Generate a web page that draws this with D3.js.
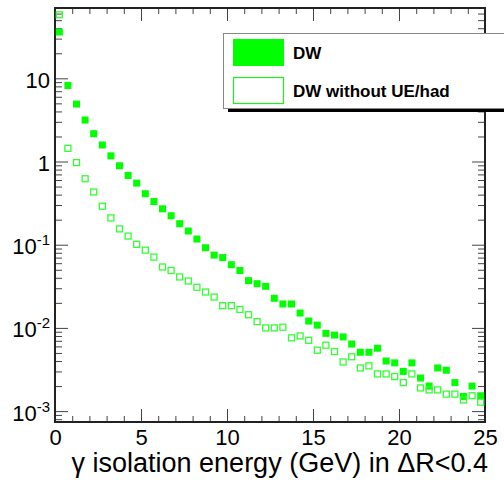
<!DOCTYPE html>
<html>
<head>
<meta charset="utf-8">
<script src="https://cdn.jsdelivr.net/npm/d3@7"></script>
<style>
  body { margin: 0; background: #fff; }
  svg { display: block; }
  text { font-family: "Liberation Sans", Arial, Helvetica, sans-serif; }
</style>
</head>
<body>
<div id="chart"></div>
<script>
// bin centres (GeV), 0.5 GeV bins
var energy = [0.25, 0.75, 1.25, 1.75, 2.25, 2.75, 3.25, 3.75, 4.25, 4.75,
  5.25, 5.75, 6.25, 6.75, 7.25, 7.75, 8.25, 8.75, 9.25, 9.75,
  10.25, 10.75, 11.25, 11.75, 12.25, 12.75, 13.25, 13.75, 14.25, 14.75,
  15.25, 15.75, 16.25, 16.75, 17.25, 17.75, 18.25, 18.75, 19.25, 19.75,
  20.25, 20.75, 21.25, 21.75, 22.25, 22.75, 23.25, 23.75, 24.25, 24.75];

var dw = [36, 8.2, 4.9, 3.15, 2.16, 1.58, 1.17, 0.89, 0.68, 0.55,
  0.41, 0.33, 0.27, 0.223, 0.179, 0.146, 0.117, 0.092, 0.075, 0.070,
  0.0575, 0.049, 0.037, 0.034, 0.0316, 0.0227, 0.0194, 0.0194, 0.0151, 0.0121,
  0.0108, 0.0086, 0.0082, 0.0078, 0.0064, 0.0051, 0.0051, 0.0057, 0.0040, 0.0038,
  0.0030, 0.0038, 0.0025, 0.0020, 0.0033, 0.0031, 0.0022, 0.0015, 0.0020, 0.00153];

var dwNoUE = [58, 1.44, 0.97, 0.62, 0.43, 0.29, 0.21, 0.155, 0.127, 0.101,
  0.086, 0.071, 0.054, 0.049, 0.041, 0.0366, 0.0308, 0.027, 0.0235, 0.0185,
  0.0185, 0.0167, 0.0144, 0.0119, 0.0100, 0.0100, 0.0102, 0.0076, 0.0080, 0.0071,
  0.0054, 0.0062, 0.0052, 0.0039, 0.0045, 0.0033, 0.0035, 0.0028, 0.0028, 0.0026,
  0.0022, 0.0028, 0.0019, 0.0018, 0.0018, 0.0016, 0.0016, 0.00136, 0.00153, 0.00128];

var xMajor = [0, 5, 10, 15, 20, 25];
var xMinor = [1, 2, 3, 4, 6, 7, 8, 9, 11, 12, 13, 14, 16, 17, 18, 19, 21, 22, 23, 24];
var yExp = [-3, -2, -1, 0, 1];
var legendLabels = ["DW", "DW without UE/had"];

var W = 504, H = 483;
var pL = 55, pR = 485, pT = 8, pB = 422;
var green = "#00ff00";

var svg = d3.select("#chart").append("svg")
    .attr("width", W)
    .attr("height", H);

var x = d3.scaleLinear().domain([0, 25]).range([pL, pR]);
var y = d3.scaleLog().domain([7.4e-4, 70]).range([pB, pT]);

var yMajor = yExp.map(function(e){ return Math.pow(10, e); });
var yMinor = [];
for (var e = -4; e <= 1; e++) {
  for (var k = 2; k <= 9; k++) {
    var v = k * Math.pow(10, e);
    if (v >= y.domain()[0] && v <= y.domain()[1]) yMinor.push(v);
  }
}

function styleAxis(g) {
  g.select(".domain").remove();
  g.selectAll(".tick line").attr("stroke", "#444").attr("stroke-width", 1);
}

// ticks, all pointing inward
svg.append("g").attr("transform", "translate(0," + pB + ")")
    .call(d3.axisBottom(x).tickValues(xMinor).tickSize(-6).tickFormat(""))
    .call(styleAxis);
var xAx = svg.append("g").attr("transform", "translate(0," + pB + ")")
    .call(d3.axisBottom(x).tickValues(xMajor).tickSize(-13).tickPadding(7).tickFormat(d3.format("d")))
    .call(styleAxis);
xAx.selectAll("text").attr("font-size", 22).attr("fill", "#000")
    .style("font-family", "Liberation Sans, Arial, sans-serif");

svg.append("g").attr("transform", "translate(0," + pT + ")")
    .call(d3.axisTop(x).tickValues(xMinor).tickSize(-6).tickFormat(""))
    .call(styleAxis);
svg.append("g").attr("transform", "translate(0," + pT + ")")
    .call(d3.axisTop(x).tickValues(xMajor).tickSize(-13).tickFormat(""))
    .call(styleAxis);

svg.append("g").attr("transform", "translate(" + pL + ",0)")
    .call(d3.axisLeft(y).tickValues(yMinor).tickSize(-7).tickFormat(""))
    .call(styleAxis);
var yAx = svg.append("g").attr("transform", "translate(" + pL + ",0)")
    .call(d3.axisLeft(y).tickValues(yMajor).tickSize(-13).tickPadding(5).tickFormat(""))
    .call(styleAxis);

svg.append("g").attr("transform", "translate(" + pR + ",0)")
    .call(d3.axisRight(y).tickValues(yMinor).tickSize(-7).tickFormat(""))
    .call(styleAxis);
svg.append("g").attr("transform", "translate(" + pR + ",0)")
    .call(d3.axisRight(y).tickValues(yMajor).tickSize(-13).tickFormat(""))
    .call(styleAxis);

// y labels as 10^n
yAx.selectAll(".tick").each(function(d) {
  var ex = Math.round(Math.log10(d));
  var t = d3.select(this).select("text")
      .attr("x", -5).attr("dy", null).attr("y", 9)
      .attr("font-size", 22).attr("fill", "#000")
      .style("font-family", "Liberation Sans, Arial, sans-serif");
  if (ex === 0) t.text("1");
  else if (ex === 1) t.text("10");
  else {
    t.append("tspan").text("10");
    t.append("tspan").attr("dy", -9).attr("font-size", 15).text(String(ex));
  }
});

// frame
svg.append("rect")
    .attr("x", pL).attr("y", pT)
    .attr("width", pR - pL).attr("height", pB - pT)
    .attr("fill", "none").attr("stroke", "#222").attr("stroke-width", 2);

var data = energy.map(function(e, i){ return {e: e, a: dw[i], b: dwNoUE[i]}; });

svg.append("g").selectAll("rect")
  .data(data)
  .enter().append("rect")
    .attr("x", function(d){ return x(d.e) - 3.5; })
    .attr("y", function(d){ return y(d.a) - 3.5; })
    .attr("width", 7).attr("height", 7)
    .attr("fill", green);

svg.append("g").selectAll("rect")
  .data(data)
  .enter().append("rect")
    .attr("x", function(d){ return x(d.e) - 3; })
    .attr("y", function(d){ return y(d.b) - 3; })
    .attr("width", 6).attr("height", 6)
    .attr("fill", "none").attr("stroke", "#33ff33").attr("stroke-width", 1.3);

// axis title
svg.append("text")
    .attr("x", 488).attr("y", 472)
    .attr("text-anchor", "end")
    .attr("font-size", 27)
    .text("\u03b3 isolation energy (GeV) in \u0394R<0.4");

// legend
var leg = svg.append("g");
leg.append("rect").attr("x", 228).attr("y", 109).attr("width", 300).attr("height", 3).attr("fill", "#000");
leg.append("rect").attr("x", 223.5).attr("y", 33.5).attr("width", 300).attr("height", 75)
    .attr("fill", "#fff").attr("stroke", "#888").attr("stroke-width", 1);
leg.append("rect").attr("x", 233).attr("y", 39).attr("width", 51).attr("height", 27).attr("fill", green);
leg.append("rect").attr("x", 233.5).attr("y", 77.5).attr("width", 50).attr("height", 26)
    .attr("fill", "#fff").attr("stroke", "#22ee22").attr("stroke-width", 1.2);
leg.selectAll("text.lab")
  .data(legendLabels)
  .enter().append("text")
    .attr("class", "lab")
    .attr("x", 293)
    .attr("y", function(d, i){ return i === 0 ? 59 : 96.5; })
    .attr("font-size", 17).attr("font-weight", "bold")
    .text(function(d){ return d; });
</script>
</body>
</html>
